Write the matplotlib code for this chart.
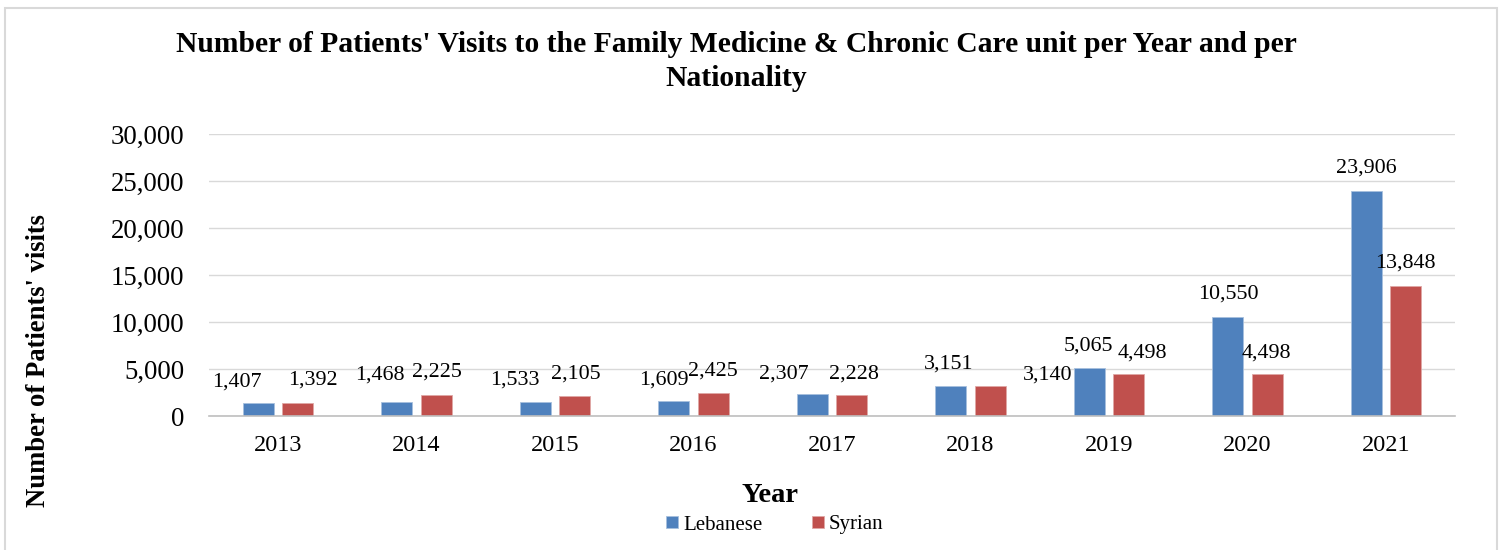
import matplotlib
matplotlib.use("Agg")
import matplotlib.pyplot as plt
from matplotlib.patches import Rectangle
import numpy as np

# ---- data ----
years = ["2013", "2014", "2015", "2016", "2017", "2018", "2019", "2020", "2021"]
lebanese = [1407, 1468, 1533, 1609, 2307, 3151, 5065, 10550, 23906]
syrian = [1392, 2225, 2105, 2425, 2228, 3140, 4498, 4498, 13848]
series_names = ["Lebanese", "Syrian"]

# ---- label placement tweaks (pixels) ----
leb_dx = [-21.5, -17, -21, -10, -28.5, -2, -1, 0, 0]
leb_dy = [21, 27, 22, 21, 20, 22, 22, 23, 23]
syr_dx = [15.5, 1, 1, 0, 2.5, 58, 14, -1, 0]
syr_dy = [23, 23, 22.5, 22, 21, 11.5, 21, 21, 22.5]

W, H = 1501, 550
plt.rcParams['font.family'] = ['Liberation Serif', 'DejaVu Serif']

fig = plt.figure(figsize=(W / 100, H / 100), dpi=100)
fig.patch.set_facecolor("white")

# outer chart border
fig.patches.append(Rectangle((5 / W, -0.01), (1497 - 5) / W, 1.01 - 8 / H,
                             transform=fig.transFigure, fill=False,
                             edgecolor="#D9D9D9", linewidth=1.5))

left, right, top, bottom = 208.75, 1455.25, 134, 416
ax = fig.add_axes([left / W, 1 - bottom / H, (right - left) / W, (bottom - top) / H])

x = np.arange(len(years))
bw = 0.224
off = 0.141
blue = "#4F81BD"
red = "#C0504D"
b1 = ax.bar(x - off, lebanese, width=bw, color=blue, edgecolor="#A7C0DE", linewidth=0.6, zorder=3, label=series_names[0])
b2 = ax.bar(x + off, syrian, width=bw, color=red, edgecolor="#E0A8A6", linewidth=0.6, zorder=3, label=series_names[1])

for i in range(len(years)):
    ax.annotate(f"{lebanese[i]:,}", xy=(x[i] - off, lebanese[i]),
                xytext=(leb_dx[i], leb_dy[i]), textcoords="offset pixels",
                ha="center", va="center", fontsize=15.8, color="black", zorder=4)
    ax.annotate(f"{syrian[i]:,}", xy=(x[i] + off, syrian[i]),
                xytext=(syr_dx[i], syr_dy[i]), textcoords="offset pixels",
                ha="center", va="center", fontsize=15.8, color="black", zorder=4)

ax.set_xlim(-0.5, len(years) - 0.5)
ax.set_ylim(0, 30000)
ax.set_yticks(np.arange(0, 30001, 5000))
ax.set_yticklabels([f"{v:,}" for v in range(0, 30001, 5000)], fontsize=19.3)
ax.set_xticks(x)
ax.set_xticklabels(years, fontsize=17.5)
ax.tick_params(axis="both", length=0)
ax.tick_params(axis="y", pad=17.8)
ax.tick_params(axis="x", pad=14)
ax.grid(axis="y", color="#D9D9D9", linewidth=1, zorder=0)
for s in ["top", "right", "left"]:
    ax.spines[s].set_visible(False)
ax.spines["bottom"].set_color("#BFBFBF")
ax.spines["bottom"].set_linewidth(1.2)
ax.spines["bottom"].set_zorder(5)

# titles
fig.text(736 / W, 1 - 52 / H,
         "Number of Patients' Visits to the Family Medicine & Chronic Care unit per Year and per",
         ha="center", va="baseline", fontsize=21.3, fontweight="bold")
fig.text(736 / W, 1 - 85.5 / H, "Nationality",
         ha="center", va="baseline", fontsize=21.3, fontweight="bold")

fig.text(39 / W, 1 - 361 / H, "Number of Patients' visits", rotation=90,
         ha="center", va="center", fontsize=19.2, fontweight="bold")
fig.text(770 / W, 1 - 495 / H, "Year", ha="center", va="center",
         fontsize=20.5, fontweight="bold")

leg = fig.legend(handles=[b1, b2], labels=series_names, loc="center",
                 bbox_to_anchor=(775 / W, 1 - 525 / H), ncol=2, frameon=False,
                 fontsize=15, handlelength=0.55, handleheight=0.55,
                 handletextpad=0.25, columnspacing=2.4)

fig.savefig("out.png", dpi=100, facecolor="white")
